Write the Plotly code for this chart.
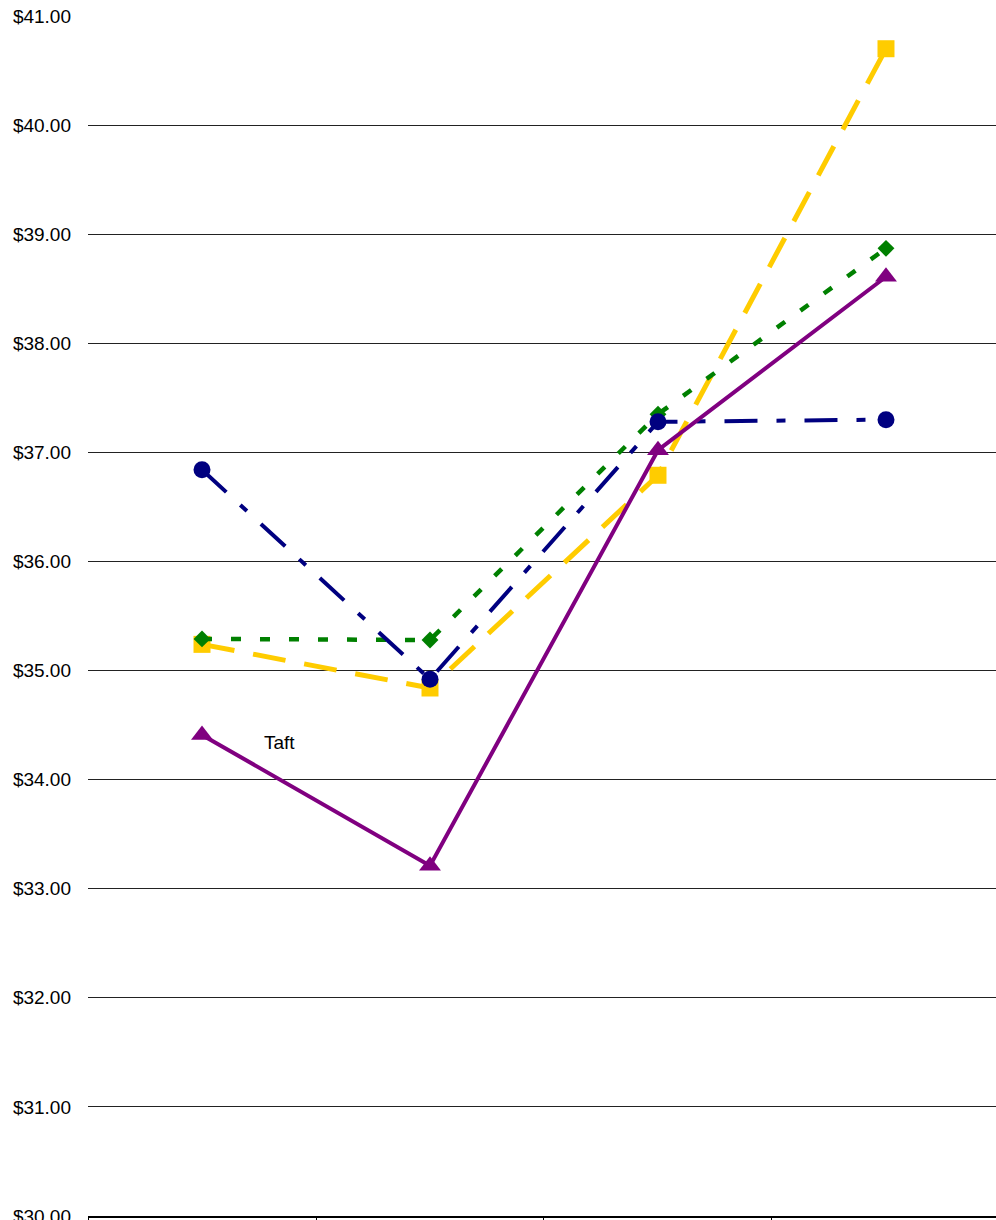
import plotly.graph_objects as go

# Four periods along the x axis (no tick labels are shown)
periods = [1, 2, 3, 4]

# Price series ($)
series_square = [35.24, 34.84, 36.79, 40.70]
series_diamond = [35.29, 35.28, 37.35, 38.87]
series_circle = [36.84, 34.92, 37.28, 37.30]
taft = [34.41, 33.21, 37.02, 38.61]

y_ticks = [30, 31, 32, 33, 34, 35, 36, 37, 38, 39, 40, 41]
y_tick_text = [f"${v:.2f}" for v in y_ticks]

FONT = "Arial, Liberation Sans, sans-serif"

fig = go.Figure()

fig.add_trace(go.Scatter(
    x=periods, y=series_square, mode="lines+markers", name="Series A",
    line=dict(color="#FFCC00", width=5, dash="33px,19px"),
    marker=dict(symbol="square", size=17, color="#FFCC00"),
))
fig.add_trace(go.Scatter(
    x=periods, y=series_diamond, mode="lines+markers", name="Series B",
    line=dict(color="#008000", width=4.5, dash="10px,19px"),
    marker=dict(symbol="diamond", size=13, color="#008000"),
))
fig.add_trace(go.Scatter(
    x=periods, y=series_circle, mode="lines+markers", name="Series C",
    line=dict(color="#000080", width=4, dash="33px,19px,9px,19px"),
    marker=dict(symbol="circle", size=17, color="#000080"),
))
fig.add_trace(go.Scatter(
    x=periods, y=taft, mode="lines+markers", name="Taft",
    line=dict(color="#800080", width=4),
    marker=dict(symbol="triangle-up", size=19, color="#800080"),
))

fig.add_annotation(
    x=1.34, y=34.34, xref="x", yref="y", text="Taft", showarrow=False,
    font=dict(family=FONT, size=19, color="#000000"),
)

fig.update_layout(
    width=996, height=1220,
    margin=dict(l=88, r=0, t=16, b=4, autoexpand=False),
    paper_bgcolor="white", plot_bgcolor="white",
    showlegend=False,
    font=dict(family=FONT, size=19, color="#000000"),
    xaxis=dict(
        range=[0.5, 4.4825],
        tickvals=[0.5, 1.5, 2.5, 3.5, 4.5],
        showticklabels=False,
        ticks="outside", ticklen=6, tickcolor="#000000", tickwidth=1,
        showgrid=False, zeroline=False, automargin=False,
        showline=True, linecolor="#000000", linewidth=1.5,
    ),
    yaxis=dict(
        range=[30, 41],
        tickvals=y_ticks, ticktext=y_tick_text,
        showgrid=True, gridcolor="#222222", gridwidth=1,
        zeroline=False, showline=False, automargin=False,
        ticks="", ticklabelstandoff=16,
        ticklabeloverflow="allow",
        tickfont=dict(family=FONT, size=19, color="#000000"),
    ),
)

fig.write_html("out.html")
